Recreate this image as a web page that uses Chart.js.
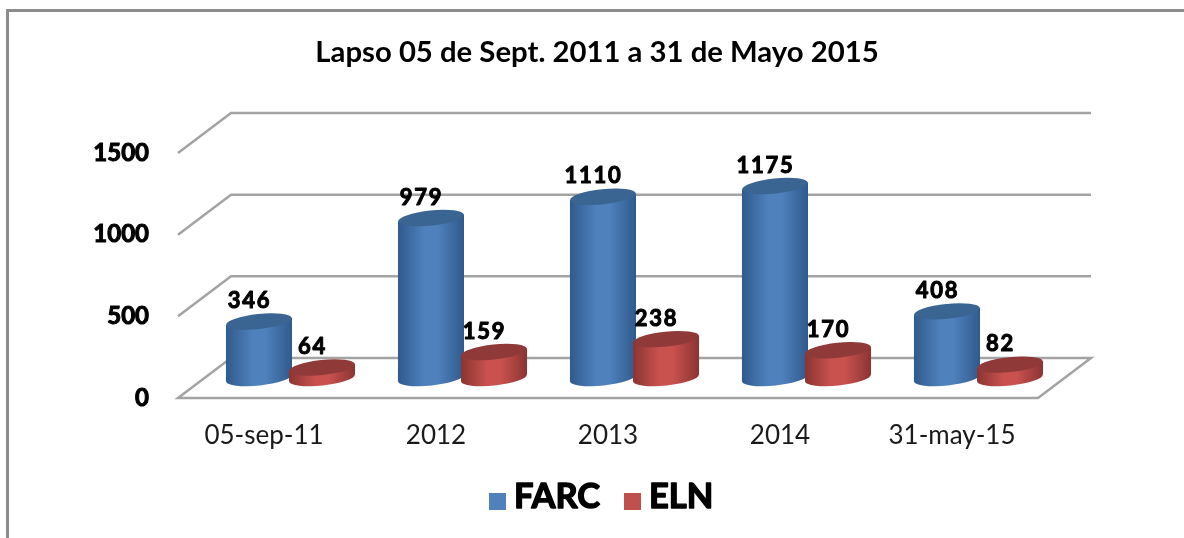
<!DOCTYPE html>
<html>
<head>
<meta charset="utf-8">
<title>Lapso 05 de Sept. 2011 a 31 de Mayo 2015</title>
<script src="https://cdn.jsdelivr.net/npm/chart.js@4/dist/chart.umd.min.js"></script>
<style>
  html, body { margin: 0; padding: 0; background: #fff; overflow: hidden; }
  #frame { position: absolute; left: 6px; top: 9px; width: 1178px; height: 529px; box-sizing: border-box;
           border-top: 3px solid #8c8c8c; border-left: 3px solid #8c8c8c; }
  #chart { position: absolute; left: 10px; top: 0; }
</style>
</head>
<body>
<div id="frame"></div>
<canvas id="chart" width="1174" height="538"></canvas>
<script>
const categories = ["05-sep-11", "2012", "2013", "2014", "31-may-15"];
const farc = [346, 979, 1110, 1175, 408];
const eln = [64, 159, 238, 170, 82];
const yTicks = [0, 500, 1000, 1500];

// how far the back wall sits from the front plane of the fake 3D box
const DEPTH_X = 53;
const DEPTH_Y = 40;
const TILT = -6 * Math.PI / 180;

const shades = {
  FARC: { edge: "#2f5a8c", mid: "#4f81bd", top: "#3a6492" },
  ELN: { edge: "#8a3432", mid: "#c9524f", top: "#8f3a38" }
};

function drawCylinder(ctx, bar, c) {
  const x = bar.x + DEPTH_X / 2;
  const top = bar.y - DEPTH_Y / 2;
  const base = bar.base - DEPTH_Y / 2;
  const rx = bar.width / 2 + 1.5;
  const ry = 7.5;
  const lean = Math.sin(-TILT) * rx;

  const grad = ctx.createLinearGradient(x - rx, 0, x + rx, 0);
  grad.addColorStop(0, c.edge);
  grad.addColorStop(0.4, c.mid);
  grad.addColorStop(0.6, c.mid);
  grad.addColorStop(1, c.edge);

  ctx.fillStyle = grad;
  ctx.beginPath();
  ctx.moveTo(x - rx, top + lean);
  ctx.lineTo(x + rx, top - lean);
  ctx.lineTo(x + rx, base - lean);
  ctx.lineTo(x - rx, base + lean);
  ctx.closePath();
  ctx.fill();
  ctx.beginPath();
  ctx.ellipse(x, base, rx, ry, TILT, 0, Math.PI * 2);
  ctx.fill();
  ctx.fillStyle = c.top;
  ctx.beginPath();
  ctx.ellipse(x, top, rx, ry, TILT, 0, Math.PI * 2);
  ctx.fill();
}

function heavyText(ctx, text, x, y, width) {
  ctx.lineWidth = width;
  ctx.strokeStyle = "#000";
  ctx.fillStyle = "#000";
  ctx.lineJoin = "round";
  ctx.strokeText(text, x, y);
  ctx.fillText(text, x, y);
}

// grid wall and floor, then the library's bars as cylinders half way into the box
const box3d = {
  id: "box3d",
  beforeDatasetsDraw(chart) {
    const { ctx, chartArea: a, scales: { y } } = chart;
    ctx.save();
    ctx.strokeStyle = "#a3a3a3";
    ctx.lineWidth = 2.5;
    yTicks.forEach(v => {
      const py = y.getPixelForValue(v);
      ctx.beginPath();
      ctx.moveTo(a.left, py);
      ctx.lineTo(a.left + DEPTH_X, py - DEPTH_Y);
      ctx.lineTo(a.right + DEPTH_X, py - DEPTH_Y);
      if (v === 0) {
        ctx.lineTo(a.right, py);
        ctx.closePath();
      }
      ctx.stroke();
    });
    // FARC first so the ELN cylinders sit on top of it
    chart.data.datasets.forEach((ds, i) => {
      chart.getDatasetMeta(i).data.forEach(bar => drawCylinder(ctx, bar, shades[ds.label]));
    });
    ctx.restore();
  },
  beforeDatasetDraw() {
    return false;
  }
};

const valueLabels = {
  id: "valueLabels",
  afterDatasetsDraw(chart) {
    const { ctx } = chart;
    ctx.save();
    ctx.font = "bold 22px Lato";
    ctx.letterSpacing = "1.7px";
    ctx.textAlign = "center";
    ctx.textBaseline = "middle";
    chart.data.datasets.forEach((ds, i) => {
      chart.getDatasetMeta(i).data.forEach((bar, j) => {
        heavyText(ctx, ds.data[j], bar.x + DEPTH_X / 2 - 9.5, bar.y - DEPTH_Y / 2 - 20.5, 1);
      });
    });
    ctx.restore();
  }
};

// legend drawn by hand, the built-in one keeps too wide a gap after the swatch
const bigLegend = {
  id: "bigLegend",
  afterDraw(chart) {
    const { ctx } = chart;
    const slots = [479, 614];
    ctx.save();
    ctx.font = "bold 34.5px Lato";
    ctx.textBaseline = "middle";
    chart.data.datasets.forEach((ds, i) => {
      ctx.fillStyle = ds.backgroundColor;
      ctx.fillRect(slots[i], 493, 17, 17);
      heavyText(ctx, ds.label, slots[i] + 25, 497, 1.4);
    });
    ctx.restore();
  }
};

new Chart(document.getElementById("chart"), {
  type: "bar",
  data: {
    labels: categories,
    datasets: [
      { label: "FARC", data: farc, backgroundColor: "#4f81bd" },
      { label: "ELN", data: eln, backgroundColor: "#c0504d" }
    ]
  },
  options: {
    responsive: false,
    animation: false,
    categoryPercentage: 0.733,
    barPercentage: 1,
    layout: { padding: 0 },
    plugins: {
      tooltip: { enabled: false },
      legend: { display: false },
      title: {
        display: true,
        text: "Lapso 05 de Sept. 2011 a 31 de Mayo 2015",
        color: "#000",
        font: { family: "Lato", size: 29.3, weight: "bold" },
        padding: { top: 35, bottom: 82.8 }
      }
    },
    scales: {
      x: {
        grid: { display: false },
        border: { display: false },
        afterFit(scale) { scale.height = 140; },
        ticks: {
          color: "#1a1a1a",
          font: { family: "Lato", size: 26 },
          padding: 14,
          maxRotation: 0,
          autoSkip: false
        }
      },
      y: {
        min: 0,
        max: 1500,
        grid: { display: false },
        border: { display: false },
        afterFit(scale) { scale.width = 168; },
        afterBuildTicks(scale) { scale.ticks = yTicks.map(value => ({ value })); },
        ticks: {
          color: "#000",
          font: { family: "Lato", size: 24, weight: "bold" },
          textStrokeColor: "#000",
          textStrokeWidth: 1,
          padding: 21,
          callback: v => String(v)
        }
      },
      // empty axis, only holds the room on the right of the box
      spacer: {
        axis: "y",
        position: "right",
        grid: { display: false },
        border: { display: false },
        ticks: { display: false },
        afterFit(scale) { scale.width = 146; }
      }
    }
  },
  plugins: [box3d, valueLabels, bigLegend]
});
</script>
</body>
</html>
